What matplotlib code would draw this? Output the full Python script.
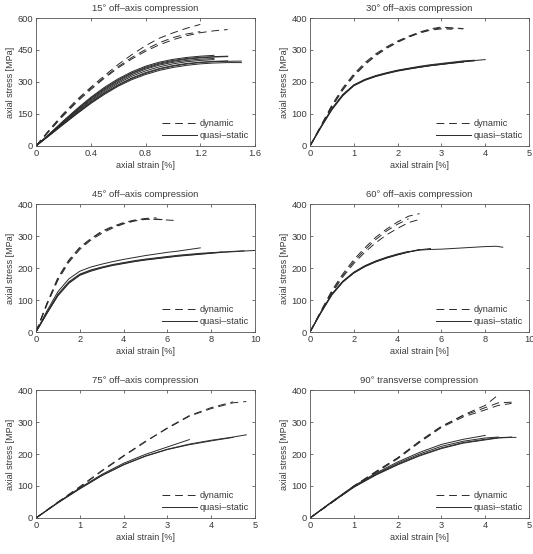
#!/usr/bin/env python3

import numpy as np
import matplotlib.pyplot as plt

# ---- 15 deg off-axis
s15_strain = [0, 0.1, 0.2, 0.3, 0.4, 0.5, 0.6, 0.7, 0.8, 0.9, 1.0, 1.1, 1.2, 1.3, 1.4, 1.5]
s15_dyn = [
    [0, 78, 152, 218, 275, 330, 382, 428, 470, 505, 530, 552, 570],
    [0, 72, 142, 207, 264, 318, 366, 408, 444, 474, 498, 517, 531, 540, 546],
    [0, 75, 147, 212, 270, 322, 372, 415, 452, 484, 508, 525, 536],
]
s15_qs = [
    [0, 58, 118, 175, 228, 275, 315, 348, 374, 393, 406, 415, 421, 425],
    [0, 56, 113, 168, 220, 266, 306, 340, 365, 384, 397, 407, 413, 417, 419],
    [0, 53, 107, 160, 210, 255, 294, 327, 352, 371, 385, 395, 401, 405],
    [0, 50, 101, 151, 199, 242, 280, 311, 335, 354, 368, 378, 385, 389, 391, 391],
    [0, 55, 110, 164, 215, 261, 300, 334, 360, 379, 392, 401, 407, 410],
    [0, 52, 104, 156, 205, 249, 287, 319, 344, 363, 377, 387, 393, 397, 399],
    [0, 57, 115, 171, 224, 270, 310, 343, 369, 388, 401, 410, 416, 419, 421],
    [0, 51, 103, 154, 202, 246, 284, 316, 340, 360, 374, 384, 391, 395, 397, 398],
]

# ---- 30 deg off-axis
s30_strain = [0, 0.25, 0.5, 0.75, 1.0, 1.25, 1.5, 1.75, 2.0, 2.25, 2.5, 2.75, 3.0, 3.25, 3.5, 3.75, 4.0]
s30_dyn = [
    [0, 64, 128, 182, 225, 260, 288, 310, 328, 343, 356, 366, 372, 369, 367],
    [0, 60, 122, 175, 218, 253, 282, 305, 324, 340, 353, 362, 366, 365],
    [0, 62, 125, 178, 221, 256, 285, 307, 326, 341, 354, 364, 369, 368, 366],
]
s30_qs = [
    [0, 60, 116, 160, 190, 207, 219, 228, 236, 242, 247, 252, 256, 260, 264, 267, 270],
    [0, 58, 113, 157, 188, 205, 217, 226, 234, 240, 246, 251, 255, 259, 263, 266],
    [0, 59, 115, 159, 189, 206, 218, 227, 235, 241, 246, 251, 255, 259, 262],
    [0, 61, 117, 161, 191, 208, 220, 229, 237, 243, 249, 254, 258, 262, 266, 268],
]

# ---- 45 deg off-axis
s45_strain = [0, 0.5, 1.0, 1.5, 2.0, 2.5, 3.0, 3.5, 4.0, 4.5, 5.0, 5.5, 6.0, 6.5, 7.0, 7.5, 8.0, 8.5, 9.0, 9.5, 10.0]
s45_dyn = [
    [0, 90, 170, 225, 265, 292, 315, 330, 342, 350, 354, 352, 350, 348],
    [0, 85, 162, 218, 258, 287, 308, 325, 338, 347, 352, 353, 350],
    [0, 88, 166, 222, 262, 290, 312, 328, 340, 348, 355, 357],
]
s45_qs = [
    [0, 66, 126, 166, 190, 203, 212, 220, 227, 233, 239, 244, 249, 253, 258, 263],
    [0, 61, 118, 157, 181, 194, 203, 211, 217, 223, 228, 232, 236, 240, 243, 246, 248, 250],
    [0, 58, 113, 152, 177, 190, 200, 208, 214, 220, 225, 229, 233, 237, 240, 243, 246, 249, 251, 253, 255],
    [0, 59, 115, 154, 179, 192, 201, 209, 215, 221, 226, 230, 234, 238, 241, 244, 247, 250, 252, 254],
]

# ---- 60 deg off-axis
s60_strain = [0, 0.5, 1.0, 1.5, 2.0, 2.5, 3.0, 3.5, 4.0, 4.5, 5.0, 5.5, 6.0, 6.5, 7.0, 7.5, 8.0, 8.5, 8.8]
s60_dyn = [
    [0, 66, 130, 182, 226, 263, 296, 322, 344, 362, 370],
    [0, 62, 122, 172, 214, 249, 279, 304, 324, 342, 352],
    [0, 64, 126, 177, 220, 256, 289, 316, 337, 354],
]
s60_qs = [
    [0, 62, 118, 158, 186, 206, 221, 233, 242, 250, 256, 258, 259, 261, 263, 265, 267, 268, 265],
    [0, 60, 116, 156, 184, 204, 219, 231, 241, 250, 258],
    [0, 61, 117, 157, 185, 205, 220, 232, 242, 251, 257, 261],
    [0, 63, 119, 159, 187, 207, 222, 234, 244, 252],
]

# ---- 75 deg off-axis
s75_strain = [0, 0.5, 1.0, 1.5, 2.0, 2.5, 3.0, 3.5, 4.0, 4.5, 4.8]
s75_dyn = [
    [0, 50, 98, 148, 195, 240, 280, 318, 342, 360, 364],
    [0, 48, 96, 146, 193, 238, 282, 320, 345, 363],
]
s75_qs = [
    [0, 48, 92, 133, 167, 194, 215, 231, 243, 253, 260],
    [0, 47, 91, 132, 166, 193, 214, 229, 241, 252],
    [0, 49, 94, 136, 171, 199, 222, 245],
]

# ---- 90 deg transverse
s90_strain = [0, 0.5, 1.0, 1.5, 2.0, 2.5, 3.0, 3.5, 4.0, 4.3, 4.6, 4.7]
s90_dyn = [
    [0, 50, 100, 145, 188, 240, 287, 320, 345, 360, 362, 363],
    [0, 48, 97, 142, 185, 236, 283, 316, 338, 352, 358],
    [0, 49, 99, 144, 187, 238, 285, 322, 352, 385],
]
s90_qs = [
    [0, 51, 100, 140, 175, 205, 230, 246, 258],
    [0, 50, 97, 135, 168, 196, 219, 236, 246, 251, 253],
    [0, 49, 96, 134, 166, 194, 217, 234, 244, 250, 252, 252],
    [0, 50, 98, 137, 171, 200, 224, 240, 250, 253],
]

titles = ['15\u00b0 off\u2013axis compression', '30\u00b0 off\u2013axis compression',
          '45\u00b0 off\u2013axis compression', '60\u00b0 off\u2013axis compression',
          '75\u00b0 off\u2013axis compression', '90\u00b0 transverse compression']
xmax = [1.6, 5, 10, 10, 5, 5]
xticks = [[0, 0.4, 0.8, 1.2, 1.6], [0, 1, 2, 3, 4, 5], [0, 2, 4, 6, 8, 10],
          [0, 2, 4, 6, 8, 10], [0, 1, 2, 3, 4, 5], [0, 1, 2, 3, 4, 5]]
ymax = [600, 400, 400, 400, 400, 400]
yticks = [[0, 150, 300, 450, 600]] + [[0, 100, 200, 300, 400]] * 5

panels = [(s15_strain, s15_dyn, s15_qs), (s30_strain, s30_dyn, s30_qs),
          (s45_strain, s45_dyn, s45_qs), (s60_strain, s60_dyn, s60_qs),
          (s75_strain, s75_dyn, s75_qs), (s90_strain, s90_dyn, s90_qs)]

plt.rcParams['font.family'] = ['Liberation Sans', 'DejaVu Sans']
plt.rcParams['font.size'] = 6.5
txt = '#3a3a3a'
lc = '#2a2a2a'

fig = plt.figure(figsize=(5.33, 5.54), dpi=100)
lefts = [0.0675, 0.5816]
bottoms = [0.7365, 0.4007, 0.065]
w, h = 0.411, 0.231

for i, (strain, dyn, qs) in enumerate(panels):
    ax = fig.add_axes([lefts[i % 2], bottoms[i // 2], w, h])
    for k, s in enumerate(dyn):
        ax.plot(strain[:len(s)], s, '--', color=lc, lw=0.7, dashes=(8, 5),
                label='dynamic' if k == 0 else None)
    for k, s in enumerate(qs):
        ax.plot(strain[:len(s)], s, '-', color=lc, lw=0.7,
                label='quasi\u2013static' if k == 0 else None)
    ax.set_xlim(0, xmax[i])
    ax.set_ylim(0, ymax[i])
    ax.set_xticks(xticks[i])
    ax.set_yticks(yticks[i])
    ax.set_xticklabels([f'{t:g}' for t in xticks[i]])
    ax.tick_params(direction='in', length=2.5, width=0.5, top=True, right=True,
                   colors=txt, labelsize=6.7, pad=2)
    for sp in ax.spines.values():
        sp.set_linewidth(0.6)
        sp.set_color('#555555')
    ax.set_title(titles[i], fontsize=6.8, color=txt, pad=5)
    ax.set_xlabel('axial strain [%]', fontsize=6.5, color=txt, labelpad=2)
    ax.set_ylabel('axial stress [MPa]', fontsize=6.5, color=txt, labelpad=2)
    leg = ax.legend(loc='lower right', frameon=False, fontsize=6.7, handlelength=3.8,
                    handletextpad=0.3, labelspacing=0.3, borderaxespad=0.25)
    for t in leg.get_texts():
        t.set_color(txt)

fig.savefig('out.png', dpi=100)
